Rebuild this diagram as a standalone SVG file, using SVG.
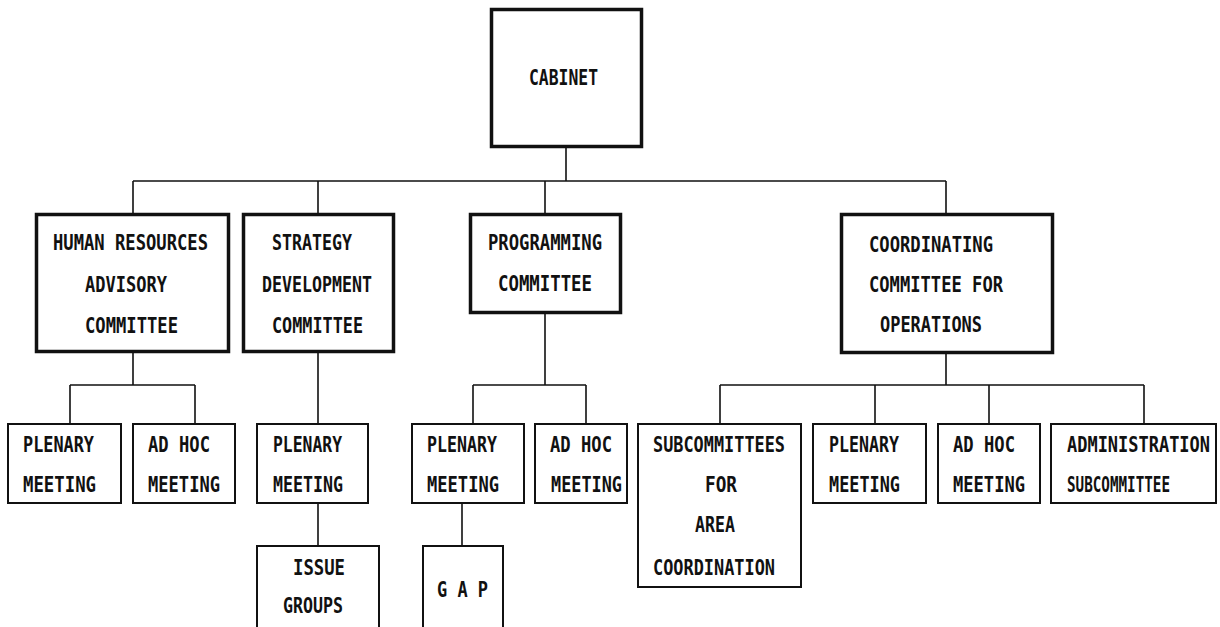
<svg xmlns="http://www.w3.org/2000/svg" width="1220" height="627" viewBox="0 0 1220 627">
<style>
.bg{fill:#fff}
.n1{fill:#fff;stroke:#111;stroke-width:3.5}
.n2{fill:#fff;stroke:#111;stroke-width:2}
.c{fill:none;stroke:#111;stroke-width:1.6}
text{font-family:"DejaVu Sans Mono","Liberation Mono",monospace;font-weight:bold;font-size:17px;fill:#111}
</style>
<rect class="bg" x="0" y="0" width="1220" height="627"/>
<g id="connectors">
<path class="c" d="M566,148 V181 M133,181 H946 M133,181 V213 M318,181 V213 M545,181 V213 M946,181 V213"/>
<path class="c" d="M133,353 V385 M70,385 H195 M70,385 V423 M195,385 V423"/>
<path class="c" d="M318,353 V423 M318,504 V545"/>
<path class="c" d="M545,314 V385 M473,385 H586 M473,385 V423 M586,385 V423 M462,504 V545"/>
<path class="c" d="M946,354 V385 M720,385 H1144 M720,385 V423 M875,385 V423 M989,385 V423 M1144,385 V423"/>
</g>
<g id="cabinet"><rect class="n1" x="491.5" y="9.5" width="150" height="137"/><text transform="translate(529,85) scale(1,1.2)" textLength="69" lengthAdjust="spacingAndGlyphs">CABINET</text></g>
<g id="hr"><rect class="n1" x="36.5" y="214.5" width="192" height="137"/>
<text transform="translate(53,250) scale(1,1.2)" textLength="155" lengthAdjust="spacingAndGlyphs">HUMAN RESOURCES</text>
<text transform="translate(85,292) scale(1,1.2)" textLength="82" lengthAdjust="spacingAndGlyphs">ADVISORY</text>
<text transform="translate(85,333) scale(1,1.2)" textLength="93" lengthAdjust="spacingAndGlyphs">COMMITTEE</text></g>
<g id="sd"><rect class="n1" x="243.5" y="214.5" width="150" height="137"/>
<text transform="translate(272,250) scale(1,1.2)" textLength="80" lengthAdjust="spacingAndGlyphs">STRATEGY</text>
<text transform="translate(262,292) scale(1,1.2)" textLength="110" lengthAdjust="spacingAndGlyphs">DEVELOPMENT</text>
<text transform="translate(272,333) scale(1,1.2)" textLength="91" lengthAdjust="spacingAndGlyphs">COMMITTEE</text></g>
<g id="prog"><rect class="n1" x="470.5" y="214.5" width="150" height="98"/>
<text transform="translate(488,250) scale(1,1.2)" textLength="114" lengthAdjust="spacingAndGlyphs">PROGRAMMING</text>
<text transform="translate(498,291) scale(1,1.2)" textLength="94" lengthAdjust="spacingAndGlyphs">COMMITTEE</text></g>
<g id="coord"><rect class="n1" x="841.5" y="214.5" width="211" height="138"/>
<text transform="translate(869,252) scale(1,1.2)" textLength="124" lengthAdjust="spacingAndGlyphs">COORDINATING</text>
<text transform="translate(869,292) scale(1,1.2)" textLength="134" lengthAdjust="spacingAndGlyphs">COMMITTEE FOR</text>
<text transform="translate(880,332) scale(1,1.2)" textLength="102" lengthAdjust="spacingAndGlyphs">OPERATIONS</text></g>
<g id="hr-plenary"><rect class="n2" x="8" y="424" width="113" height="79"/>
<text transform="translate(23,452) scale(1,1.2)" textLength="71" lengthAdjust="spacingAndGlyphs">PLENARY</text>
<text transform="translate(23,492) scale(1,1.2)" textLength="73" lengthAdjust="spacingAndGlyphs">MEETING</text></g>
<g id="hr-adhoc"><rect class="n2" x="133" y="424" width="102" height="79"/>
<text transform="translate(148,452) scale(1,1.2)" textLength="62" lengthAdjust="spacingAndGlyphs">AD HOC</text>
<text transform="translate(148,492) scale(1,1.2)" textLength="72" lengthAdjust="spacingAndGlyphs">MEETING</text></g>
<g id="sd-plenary"><rect class="n2" x="257" y="424" width="111" height="79"/>
<text transform="translate(273,452) scale(1,1.2)" textLength="69" lengthAdjust="spacingAndGlyphs">PLENARY</text>
<text transform="translate(273,492) scale(1,1.2)" textLength="70" lengthAdjust="spacingAndGlyphs">MEETING</text></g>
<g id="issue-groups"><rect class="n2" x="257" y="546" width="122" height="100"/>
<text transform="translate(293,575) scale(1,1.2)" textLength="52" lengthAdjust="spacingAndGlyphs">ISSUE</text>
<text transform="translate(283,613) scale(1,1.2)" textLength="60" lengthAdjust="spacingAndGlyphs">GROUPS</text></g>
<g id="prog-plenary"><rect class="n2" x="412" y="424" width="112" height="79"/>
<text transform="translate(427,452) scale(1,1.2)" textLength="70" lengthAdjust="spacingAndGlyphs">PLENARY</text>
<text transform="translate(427,492) scale(1,1.2)" textLength="72" lengthAdjust="spacingAndGlyphs">MEETING</text></g>
<g id="prog-adhoc"><rect class="n2" x="535" y="424" width="92" height="79"/>
<text transform="translate(550,452) scale(1,1.2)" textLength="62" lengthAdjust="spacingAndGlyphs">AD HOC</text>
<text transform="translate(551,492) scale(1,1.2)" textLength="71" lengthAdjust="spacingAndGlyphs">MEETING</text></g>
<g id="gap"><rect class="n2" x="423" y="546" width="80" height="100"/>
<text transform="translate(437,597) scale(1,1.2)" textLength="51" lengthAdjust="spacingAndGlyphs">G A P</text></g>
<g id="subcommittees"><rect class="n2" x="638" y="424" width="163" height="163"/>
<text transform="translate(653,452) scale(1,1.2)" textLength="132" lengthAdjust="spacingAndGlyphs">SUBCOMMITTEES</text>
<text transform="translate(705,492) scale(1,1.2)" textLength="32" lengthAdjust="spacingAndGlyphs">FOR</text>
<text transform="translate(695,532) scale(1,1.2)" textLength="40" lengthAdjust="spacingAndGlyphs">AREA</text>
<text transform="translate(653,575) scale(1,1.2)" textLength="122" lengthAdjust="spacingAndGlyphs">COORDINATION</text></g>
<g id="coord-plenary"><rect class="n2" x="813" y="424" width="113" height="79"/>
<text transform="translate(829,452) scale(1,1.2)" textLength="70" lengthAdjust="spacingAndGlyphs">PLENARY</text>
<text transform="translate(829,492) scale(1,1.2)" textLength="71" lengthAdjust="spacingAndGlyphs">MEETING</text></g>
<g id="coord-adhoc"><rect class="n2" x="938" y="424" width="102" height="79"/>
<text transform="translate(953,452) scale(1,1.2)" textLength="62" lengthAdjust="spacingAndGlyphs">AD HOC</text>
<text transform="translate(953,492) scale(1,1.2)" textLength="72" lengthAdjust="spacingAndGlyphs">MEETING</text></g>
<g id="admin"><rect class="n2" x="1051" y="424" width="165" height="79"/>
<text transform="translate(1067,452) scale(1,1.2)" textLength="143" lengthAdjust="spacingAndGlyphs">ADMINISTRATION</text>
<text transform="translate(1067,492) scale(1,1.2)" textLength="103" lengthAdjust="spacingAndGlyphs">SUBCOMMITTEE</text></g>
</svg>
